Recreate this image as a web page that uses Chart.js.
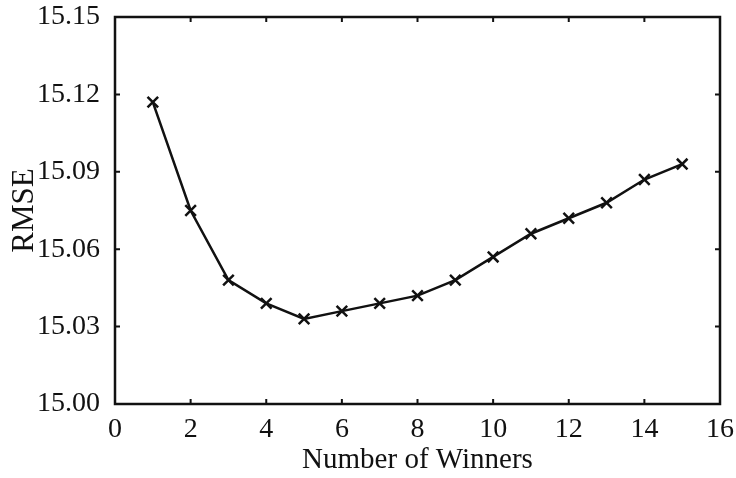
<!DOCTYPE html>
<html>
<head>
<meta charset="utf-8">
<script src="https://cdn.jsdelivr.net/npm/chart.js@4/dist/chart.umd.min.js"></script>
<style>
  html, body { margin: 0; padding: 0; background: #fff; }
  #wrap { width: 736px; height: 478px; }
</style>
</head>
<body>
<div id="wrap"><canvas id="myChart" width="736" height="478"></canvas></div>
<script>
const winners = [1, 2, 3, 4, 5, 6, 7, 8, 9, 10, 11, 12, 13, 14, 15];
const rmse = [15.117, 15.075, 15.048, 15.039, 15.033, 15.036, 15.039, 15.042, 15.048,
              15.057, 15.066, 15.072, 15.078, 15.087, 15.093];
const xTicks = [0, 2, 4, 6, 8, 10, 12, 14, 16];
const yTicks = [15.00, 15.03, 15.06, 15.09, 15.12, 15.15];

const ink = '#111';
const serif = '"Liberation Serif", "DejaVu Serif", serif';

// frame round the plot with small inward ticks, like the old matlab look
const framePlugin = {
    id: 'frame',
    afterDraw(chart) {
        const { ctx, chartArea: a, scales } = chart;
        ctx.save();
        ctx.strokeStyle = ink;
        ctx.lineWidth = 2.5;
        ctx.strokeRect(a.left, a.top, a.right - a.left, a.bottom - a.top);
        ctx.lineWidth = 2;
        const len = 5;
        ctx.beginPath();
        xTicks.forEach(v => {
            const px = scales.x.getPixelForValue(v);
            ctx.moveTo(px, a.bottom); ctx.lineTo(px, a.bottom - len);
            ctx.moveTo(px, a.top); ctx.lineTo(px, a.top + len);
        });
        yTicks.forEach(v => {
            const py = scales.y.getPixelForValue(v);
            ctx.moveTo(a.left, py); ctx.lineTo(a.left + len, py);
            ctx.moveTo(a.right, py); ctx.lineTo(a.right - len, py);
        });
        ctx.stroke();
        ctx.restore();
    }
};

let ctx = document.getElementById('myChart').getContext('2d');
let myChart = new Chart(ctx, {
    type: 'line',
    data: {
        datasets: [{
            label: 'RMSE',
            data: winners.map((w, i) => ({ x: w, y: rmse[i] })),
            borderColor: ink,
            borderWidth: 2.5,
            pointStyle: 'crossRot',
            pointRadius: 7.5,
            pointBorderColor: ink,
            pointBorderWidth: 2.5,
            tension: 0,
            fill: false
        }]
    },
    options: {
        responsive: false,
        animation: false,
        layout: { padding: { left: 0, top: 17, right: 16, bottom: 0 } },
        plugins: { legend: { display: false }, tooltip: { enabled: false } },
        scales: {
            x: {
                type: 'linear',
                min: 0, max: 16,
                afterFit: s => { s.height = 74; s.paddingLeft = 0; s.paddingRight = 0; },
                afterBuildTicks: s => { s.ticks = xTicks.map(v => ({ value: v })); },
                grid: { display: false },
                border: { display: false },
                ticks: { color: ink, padding: 1, font: { family: serif, size: 28 } },
                title: {
                    display: true, text: 'Number of Winners', color: ink,
                    padding: { top: 0, bottom: 0 },
                    font: { family: serif, size: 29 }
                }
            },
            y: {
                min: 15.00, max: 15.15,
                afterFit: s => { s.width = 115; s.paddingTop = 0; s.paddingBottom = 0; },
                afterBuildTicks: s => { s.ticks = yTicks.map(v => ({ value: v })); },
                grid: { display: false },
                border: { display: false },
                ticks: {
                    color: ink, padding: 7,
                    font: { family: serif, size: 28 },
                    callback: v => v.toFixed(2)
                },
                title: {
                    display: true, text: 'RMSE', color: ink,
                    padding: { top: 6, bottom: 0 },
                    font: { family: serif, size: 31 }
                }
            }
        }
    },
    plugins: [framePlugin]
});
</script>
</body>
</html>
